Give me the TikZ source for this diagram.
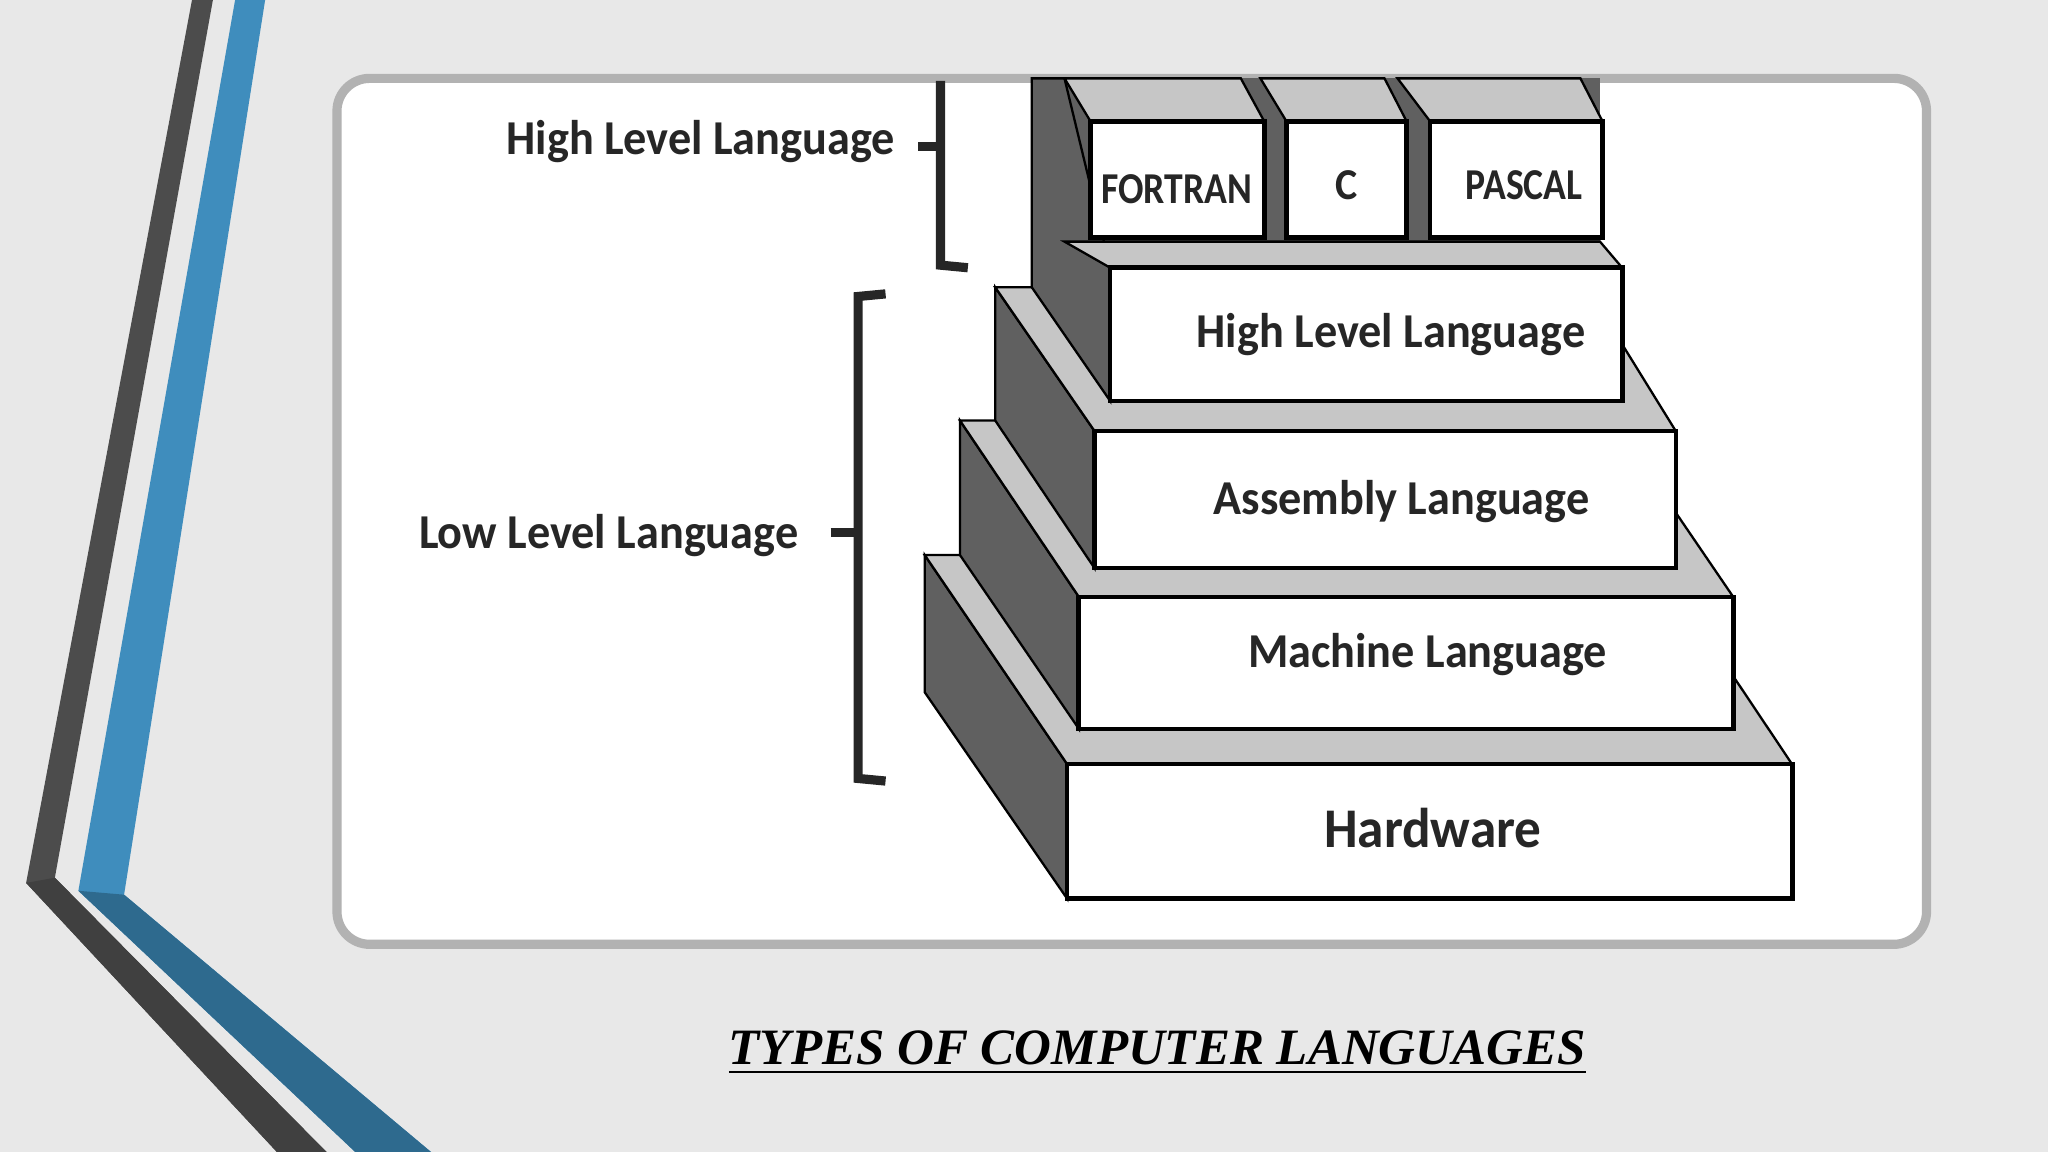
\documentclass[tikz,border=0pt]{standalone}
\usepackage{fontspec}
\setmainfont{Liberation Serif}
\newfontfamily\lbl{Carlito}
\definecolor{bluA}{HTML}{3F8DBD}
\definecolor{bluB}{HTML}{2E6A8E}
\begin{document}
\begin{tikzpicture}[x=0.01cm,y=-0.01cm,
  side/.style={fill=gray!75!black, draw=black, line width=0.5pt},
  topf/.style={fill=gray!45, draw=black, line width=0.5pt},
  front/.style={fill=white, draw=black, line width=1pt, inner sep=0},
  txt/.style={font=\lbl\bfseries\fontsize{10.6}{12}\selectfont, text=black!85, xscale=0.95},
  brk/.style={line width=2pt, black!85}]
\useasboundingbox (0,0) rectangle (1568,882);
\fill[gray!18] (0,0) rectangle (1568,882);
% stripes
\fill[black!70] (147,0)--(163,0)--(42,672)--(250,882)--(212,882)--(20,676)--cycle;
\fill[black!75] (20,676)--(42,672)--(250,882)--(212,882)--cycle;
\fill[bluA] (180,0)--(203,0)--(95,685)--(330,882)--(272,882)--(60,682)--cycle;
\fill[bluB] (60,682)--(95,685)--(330,882)--(272,882)--cycle;
% panel
\draw[fill=white, draw=gray!60, line width=2pt, rounded corners=0.25cm] (258,60) rectangle (1475,723);
% layer 1
\draw[side] (708,425)--(817,585)--(817,688)--(708,530)--cycle;
\draw[topf] (708,425)--(1265,425)--(1372,585)--(817,585)--cycle;
\node[front, minimum width=5.55cm, minimum height=1.03cm] (hw) at (1094.5,636.5) {};
% layer 2
\draw[side] (735,322)--(826,457)--(826,558)--(735,425)--cycle;
\draw[topf] (735,322)--(1235,322)--(1327,457)--(826,457)--cycle;
\node[front, minimum width=5.01cm, minimum height=1.01cm] (ml) at (1076.5,507.5) {};
% layer 3
\draw[side] (762,220)--(838,330)--(838,435)--(762,322)--cycle;
\draw[topf] (762,220)--(1215,220)--(1283,330)--(838,330)--cycle;
\node[front, minimum width=4.45cm, minimum height=1.05cm] (al) at (1060.5,382.5) {};
% layer 4 + tower
\fill[gray!75!black] (790,60)--(1225,60)--(1225,185)--(790,185)--cycle;
\draw[side] (790,60)--(815,60)--(850,205)--(850,307)--(790,220)--cycle;
\draw[topf] (815,185)--(1225,185)--(1242,205)--(850,205)--cycle;
\node[front, minimum width=3.92cm, minimum height=1.02cm] (hl) at (1046,256) {};
\draw[topf] (815,60)--(950,60)--(968,93)--(835,93)--cycle;
\draw[topf] (965,60)--(1060,60)--(1077,93)--(985,93)--cycle;
\draw[topf] (1070,60)--(1210,60)--(1227,93)--(1095,93)--cycle;
\node[front, minimum width=1.33cm, minimum height=0.89cm] (ft) at (901.5,137.5) {};
\node[front, minimum width=0.92cm, minimum height=0.89cm] (cc) at (1031,137.5) {};
\node[front, minimum width=1.32cm, minimum height=0.89cm] (pa) at (1161,137.5) {};
% labels
\node[txt, font=\lbl\bfseries\fontsize{12.2}{13}\selectfont] at (1097,634) {Hardware};
\node[txt] at (1093,501) {Machine Language};
\node[txt] at (1073,384) {Assembly Language};
\node[txt] at (1065,256) {High Level Language};
\node[txt, font=\lbl\bfseries\fontsize{9.6}{11}\selectfont, xscale=0.9] at (901,145) {FORTRAN};
\node[txt, font=\lbl\bfseries\fontsize{9.6}{11}\selectfont] at (1031,142) {C};
\node[txt, font=\lbl\bfseries\fontsize{9.6}{11}\selectfont, xscale=0.9] at (1167,142) {PASCAL};
\node[txt, anchor=east] (hll) at (697,108) {High Level Language};
\node[txt, anchor=east] (lll) at (623,410) {Low Level Language};
% brackets
\draw[brk] (703,112)--(720,112);
\draw[brk] (720,62)--(720,203)--(741,205);
\draw[brk] (678,225)--(657,227)--(657,596)--(678,598);
\draw[brk] (636,408)--(657,408);
% caption
\node[font=\bfseries\itshape\fontsize{11.1}{12}\selectfont] at (886,806) {\underline{TYPES OF COMPUTER LANGUAGES}};
\end{tikzpicture}
\end{document}
